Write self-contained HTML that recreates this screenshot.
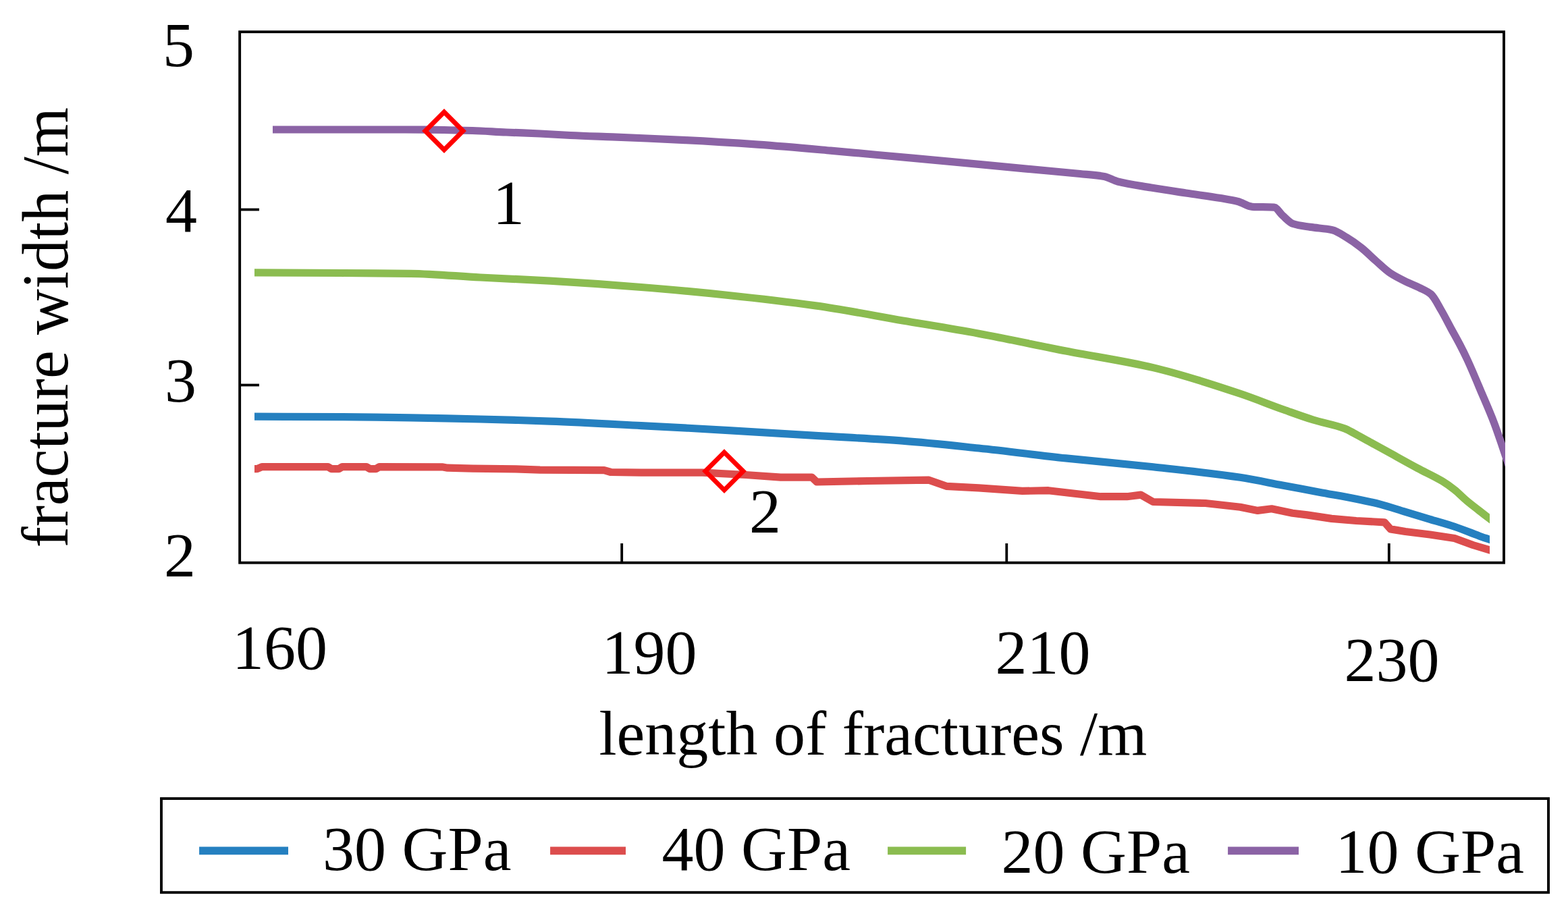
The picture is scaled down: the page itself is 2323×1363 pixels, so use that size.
<!DOCTYPE html>
<html lang="en">
<head>
<meta charset="utf-8">
<title>Fracture width versus length of fractures</title>
<style>
html, body { margin: 0; padding: 0; background: #ffffff; }
body { width: 2323px; height: 1363px; overflow: hidden; }
svg { display: block; }
text { font-family: "Liberation Serif", "DejaVu Serif", serif; fill: #000000; }
.curve { fill: none; stroke-width: 11.2; stroke-linejoin: round; stroke-linecap: butt; }
.frame { fill: none; stroke: #000000; }
.tick { stroke: #000000; }
</style>
</head>
<body>
<svg width="2323" height="1363" viewBox="0 0 2323 1363" role="img" aria-label="Fracture width versus length of fractures for four elastic moduli">
<defs>
<clipPath id="clipA"><rect x="377" y="40" width="1830" height="800"/></clipPath>
<clipPath id="clipB"><rect x="404" y="40" width="1826" height="800"/></clipPath>
</defs>
<rect x="0" y="0" width="2323" height="1363" fill="#ffffff"/>
<!-- plot frame -->
<rect class="frame" x="355.15" y="47.2" width="1872.85" height="786.5" stroke-width="3.9"/>
<!-- axis ticks -->
<g class="tick" stroke-width="3.8">
<line x1="357" y1="310.5" x2="384" y2="310.5"/>
<line x1="357" y1="570.5" x2="384" y2="570.5"/>
<line x1="921.2" y1="805" x2="921.2" y2="832"/>
<line x1="1491.3" y1="805" x2="1491.3" y2="832"/>
<line x1="2057.8" y1="805" x2="2057.8" y2="832"/>
</g>
<!-- data curves -->
<g clip-path="url(#clipA)">
<path class="curve" stroke="#8BBC50" d="M370.0,403.8 C415.0,404.0 460.0,404.2 505.0,404.5 C539.4,404.7 573.9,404.8 608.3,405.3 C642.7,405.8 677.2,409.2 711.6,411.0 C746.0,412.8 780.5,414.2 814.9,416.2 C859.9,418.8 905.0,421.9 950.0,425.5 C993.0,428.9 1036.1,433.0 1079.1,437.5 C1122.2,442.0 1165.2,446.9 1208.3,452.9 C1251.3,458.9 1294.4,467.5 1337.4,474.9 C1374.9,481.3 1412.5,487.3 1450.0,494.2 C1493.0,502.1 1536.1,511.6 1579.1,520.0 C1622.2,528.4 1665.2,534.6 1708.3,544.6 C1751.3,554.6 1794.4,568.9 1837.4,583.3 C1858.9,590.5 1880.5,599.4 1902.0,607.0 C1916.5,612.1 1931.0,617.5 1945.5,622.0 C1961.1,626.8 1976.8,629.1 1992.4,635.0 C1996.7,636.6 2001.0,639.2 2005.3,641.4 C2012.7,645.3 2020.1,649.6 2027.5,653.7 C2039.6,660.4 2051.8,667.0 2063.9,673.7 C2076.0,680.4 2088.2,687.2 2100.3,693.7 C2112.4,700.2 2124.6,705.4 2136.7,712.8 C2142.8,716.5 2148.8,720.8 2154.9,725.6 C2161.0,730.4 2167.0,736.9 2173.1,742.0 C2179.2,747.1 2185.3,751.7 2191.4,756.5 C2196.5,760.5 2201.7,764.4 2206.8,768.4 C2208.5,769.7 2210.3,771.1 2212.0,772.4"/>
<polyline class="curve" stroke="#DC4D4D" points="370,694.6 381,694.6 388,691.6 486,691.6 491,694.6 502,694.6 507,691.6 543,691.6 548,694.6 557,694.6 562,691.6 655,691.8 663,693.2 700,694.2 764,694.8 800,696.2 895,696.6 905,699.5 950,700.2 1040.4,700.2 1105,703.5 1156.6,707.2 1203,707.2 1210,714 1285.8,712.5 1376.2,711.2 1402,720.3 1450,722.8 1514.6,727.4 1553.3,726.7 1630.8,735.7 1669.5,735.7 1690.2,733.1 1708.3,743.5 1785.8,745.5 1837.4,751.2 1863.3,756.4 1883.9,753.8 1914.9,760.2 1936.4,762.9 1972.8,768.4 2009.3,771.5 2051.1,773.8 2060.2,783.9 2082.1,787.5 2118.5,792 2154.9,797.5 2182.2,807.5 2206.8,814.8 2212,816.3"/>
<path class="curve" stroke="#2580C0" d="M370.0,617.1 C415.0,617.3 460.0,617.3 505.0,617.6 C539.4,617.8 573.9,618.4 608.3,618.9 C642.7,619.4 677.2,620.2 711.6,621.0 C746.0,621.8 780.5,622.8 814.9,624.1 C859.9,625.7 905.0,628.3 950.0,630.6 C993.0,632.8 1036.1,635.1 1079.1,637.6 C1122.2,640.1 1165.2,642.8 1208.3,645.4 C1251.3,648.0 1294.4,649.9 1337.4,653.1 C1374.9,655.9 1412.5,660.1 1450.0,664.0 C1493.0,668.5 1536.1,674.3 1579.1,678.9 C1622.2,683.5 1665.2,687.1 1708.3,691.8 C1751.3,696.5 1794.4,700.8 1837.4,707.3 C1858.3,710.4 1879.1,715.1 1900.0,719.0 C1918.2,722.4 1936.4,725.8 1954.6,729.2 C1972.8,732.6 1991.1,735.5 2009.3,739.2 C2021.4,741.7 2033.6,744.3 2045.7,747.4 C2057.8,750.5 2070.0,754.8 2082.1,758.4 C2094.2,762.0 2106.4,765.7 2118.5,769.3 C2130.6,772.9 2142.8,776.2 2154.9,780.2 C2167.1,784.3 2179.2,789.5 2191.4,793.9 C2196.5,795.8 2201.7,797.5 2206.8,799.3 C2208.5,799.9 2210.3,800.5 2212.0,801.1"/>
</g>
<g clip-path="url(#clipB)">
<path class="curve" stroke="#8B63A5" d="M404.0,192.0 C436.0,192.0 468.0,192.0 500.0,192.0 C533.3,192.0 566.7,192.0 600.0,192.0 C619.3,192.0 638.7,192.2 658.0,192.5 C672.0,192.7 686.0,193.1 700.0,193.5 C716.7,194.0 733.3,195.3 750.0,196.0 C766.7,196.7 783.3,197.2 800.0,198.0 C815.0,198.7 830.0,199.8 845.0,200.5 C865.9,201.5 886.7,202.1 907.6,202.9 C943.5,204.4 979.3,205.8 1015.2,207.6 C1051.1,209.4 1087.0,211.6 1122.9,214.1 C1158.8,216.6 1194.6,219.9 1230.5,223.1 C1253.7,225.1 1276.8,227.4 1300.0,229.5 C1335.9,232.8 1371.7,236.0 1407.6,239.3 C1443.5,242.6 1479.3,246.2 1515.2,249.6 C1543.5,252.3 1571.7,254.6 1600.0,257.5 C1612.0,258.7 1624.0,259.3 1636.0,261.5 C1642.7,262.7 1649.3,267.3 1656.0,269.0 C1672.5,273.2 1689.0,275.2 1705.5,278.0 C1722.7,280.9 1739.8,283.4 1757.0,286.0 C1774.0,288.6 1791.0,290.6 1808.0,293.5 C1816.7,295.0 1825.3,296.3 1834.0,298.5 C1841.1,300.3 1848.2,305.9 1855.3,306.3 C1866.1,306.9 1876.8,306.5 1887.6,307.2 C1891.9,307.5 1896.2,315.9 1900.5,319.6 C1905.5,324.0 1910.6,329.9 1915.6,331.5 C1924.2,334.3 1932.8,335.0 1941.4,336.4 C1952.2,338.1 1962.9,338.3 1973.7,340.7 C1980.9,342.3 1988.0,347.6 1995.2,351.9 C2002.4,356.2 2009.6,361.3 2016.8,367.0 C2024.0,372.6 2031.1,380.1 2038.3,386.4 C2045.5,392.7 2052.6,399.9 2059.8,404.7 C2067.0,409.5 2074.1,413.0 2081.3,416.5 C2088.5,420.1 2095.7,422.6 2102.9,426.2 C2108.6,429.1 2114.3,431.1 2120.0,435.9 C2125.0,440.1 2130.1,451.0 2135.1,459.5 C2140.1,468.0 2145.2,478.2 2150.2,487.5 C2154.5,495.4 2158.8,502.9 2163.1,511.2 C2166.7,518.1 2170.3,525.3 2173.9,533.0 C2180.9,548.1 2188.0,565.4 2195.0,582.0 C2201.1,596.3 2207.1,609.8 2213.2,625.7 C2217.5,636.9 2221.7,649.6 2226.0,662.1 C2229.3,671.8 2232.7,682.0 2236.0,692.0"/>
</g>
<!-- markers -->
<polygon points="658,166 686,194 658,222 630,194" fill="none" stroke="#FF0000" stroke-width="7" stroke-linejoin="miter"/>
<polygon points="1073,670.1 1101,698.1 1073,726.1 1045,698.1" fill="none" stroke="#FF0000" stroke-width="7" stroke-linejoin="miter"/>
<!-- tick labels -->
<text x="241" y="97.8" text-anchor="start" font-size="94">5</text>
<text x="245" y="342.7" text-anchor="start" font-size="94">4</text>
<text x="244" y="595" text-anchor="start" font-size="94">3</text>
<text x="243" y="854" text-anchor="start" font-size="94">2</text>
<text x="344" y="990.7" text-anchor="start" font-size="94">160</text>
<text x="891.5" y="997.7" text-anchor="start" font-size="94">190</text>
<text x="1474.5" y="998.3" text-anchor="start" font-size="94">210</text>
<text x="1991.5" y="1009.3" text-anchor="start" font-size="94">230</text>
<text x="730" y="332" text-anchor="start" font-size="94">1</text>
<text x="1110" y="789.3" text-anchor="start" font-size="94">2</text>
<!-- axis titles -->
<text x="887.5" y="1118" text-anchor="start" font-size="94">length of fractures /m</text>
<text transform="translate(99.8 811.5) rotate(-90) scale(1 1.04)" x="0" y="0" font-size="94">fracture width /m</text>
<!-- legend -->
<rect class="frame" x="239" y="1183.1" width="2055" height="139.1" stroke-width="3.9"/>
<line x1="295.1" y1="1260.3" x2="427" y2="1260.3" stroke="#2580C0" stroke-width="11.7"/>
<text x="478" y="1289.3" text-anchor="start" font-size="94">30 GPa</text>
<line x1="815.1" y1="1260.3" x2="927" y2="1260.3" stroke="#DC4D4D" stroke-width="11.7"/>
<text x="980.5" y="1289.3" text-anchor="start" font-size="94">40 GPa</text>
<line x1="1315.1" y1="1260.3" x2="1431.1" y2="1260.3" stroke="#8BBC50" stroke-width="11.7"/>
<text x="1483.5" y="1293.1" text-anchor="start" font-size="94">20 GPa</text>
<line x1="1819.1" y1="1260.3" x2="1924" y2="1260.3" stroke="#8B63A5" stroke-width="11.7"/>
<text x="1978.5" y="1293.1" text-anchor="start" font-size="94">10 GPa</text>
</svg>
</body>
</html>
